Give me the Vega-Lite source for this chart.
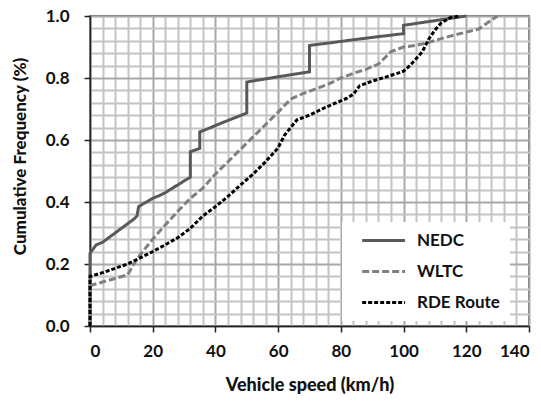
{
  "$schema": "https://vega.github.io/schema/vega-lite/v6.json",
  "autosize": {"type": "none"},
  "width": 439,
  "height": 310,
  "padding": {"left": 90, "top": 16, "right": 12, "bottom": 75},
  "background": "white",
  "config": {
    "view": {"stroke": "#3a3a3a", "strokeWidth": 1.5},
    "font": "Lato",
    "axis": {
      "labelFont": "Lato", "labelFontWeight": "bold", "labelFontSize": 17, "labelColor": "#111",
      "titleFont": "Lato", "titleFontWeight": 900, "titleFontSize": 17, "titleColor": "#111"
    }
  },
  "data": {
    "values": [
      {"i": 0, "s": "NEDC", "v": 0, "f": 0},
      {"i": 1, "s": "NEDC", "v": 0, "f": 0.235},
      {"i": 2, "s": "NEDC", "v": 2, "f": 0.262},
      {"i": 3, "s": "NEDC", "v": 4, "f": 0.27},
      {"i": 4, "s": "NEDC", "v": 6, "f": 0.285},
      {"i": 5, "s": "NEDC", "v": 8, "f": 0.3},
      {"i": 6, "s": "NEDC", "v": 10, "f": 0.315},
      {"i": 7, "s": "NEDC", "v": 12, "f": 0.33},
      {"i": 8, "s": "NEDC", "v": 14, "f": 0.345},
      {"i": 9, "s": "NEDC", "v": 15, "f": 0.355},
      {"i": 10, "s": "NEDC", "v": 15.5, "f": 0.385},
      {"i": 11, "s": "NEDC", "v": 18, "f": 0.4},
      {"i": 12, "s": "NEDC", "v": 20, "f": 0.412},
      {"i": 13, "s": "NEDC", "v": 22, "f": 0.42},
      {"i": 14, "s": "NEDC", "v": 24, "f": 0.43},
      {"i": 15, "s": "NEDC", "v": 26, "f": 0.443},
      {"i": 16, "s": "NEDC", "v": 28, "f": 0.455},
      {"i": 17, "s": "NEDC", "v": 30, "f": 0.468},
      {"i": 18, "s": "NEDC", "v": 32, "f": 0.48},
      {"i": 19, "s": "NEDC", "v": 32, "f": 0.562},
      {"i": 20, "s": "NEDC", "v": 35, "f": 0.573},
      {"i": 21, "s": "NEDC", "v": 35, "f": 0.626},
      {"i": 22, "s": "NEDC", "v": 38, "f": 0.638},
      {"i": 23, "s": "NEDC", "v": 42, "f": 0.655},
      {"i": 24, "s": "NEDC", "v": 46, "f": 0.671},
      {"i": 25, "s": "NEDC", "v": 50, "f": 0.687},
      {"i": 26, "s": "NEDC", "v": 50, "f": 0.787},
      {"i": 27, "s": "NEDC", "v": 60, "f": 0.804},
      {"i": 28, "s": "NEDC", "v": 70, "f": 0.82},
      {"i": 29, "s": "NEDC", "v": 70, "f": 0.905},
      {"i": 30, "s": "NEDC", "v": 80, "f": 0.918},
      {"i": 31, "s": "NEDC", "v": 90, "f": 0.931},
      {"i": 32, "s": "NEDC", "v": 100, "f": 0.943},
      {"i": 33, "s": "NEDC", "v": 100, "f": 0.97},
      {"i": 34, "s": "NEDC", "v": 110, "f": 0.985},
      {"i": 35, "s": "NEDC", "v": 120, "f": 1.0},

      {"i": 0, "s": "WLTC", "v": 0, "f": 0},
      {"i": 1, "s": "WLTC", "v": 0, "f": 0.13},
      {"i": 2, "s": "WLTC", "v": 4, "f": 0.142},
      {"i": 3, "s": "WLTC", "v": 8, "f": 0.153},
      {"i": 4, "s": "WLTC", "v": 12, "f": 0.165},
      {"i": 5, "s": "WLTC", "v": 14, "f": 0.2},
      {"i": 6, "s": "WLTC", "v": 16, "f": 0.23},
      {"i": 7, "s": "WLTC", "v": 20, "f": 0.28},
      {"i": 8, "s": "WLTC", "v": 24, "f": 0.326},
      {"i": 9, "s": "WLTC", "v": 28, "f": 0.37},
      {"i": 10, "s": "WLTC", "v": 32, "f": 0.412},
      {"i": 11, "s": "WLTC", "v": 36, "f": 0.445},
      {"i": 12, "s": "WLTC", "v": 40, "f": 0.49},
      {"i": 13, "s": "WLTC", "v": 44, "f": 0.53},
      {"i": 14, "s": "WLTC", "v": 48, "f": 0.57},
      {"i": 15, "s": "WLTC", "v": 52, "f": 0.61},
      {"i": 16, "s": "WLTC", "v": 56, "f": 0.65},
      {"i": 17, "s": "WLTC", "v": 60, "f": 0.69},
      {"i": 18, "s": "WLTC", "v": 64, "f": 0.732},
      {"i": 19, "s": "WLTC", "v": 68, "f": 0.75},
      {"i": 20, "s": "WLTC", "v": 72, "f": 0.765},
      {"i": 21, "s": "WLTC", "v": 76, "f": 0.78},
      {"i": 22, "s": "WLTC", "v": 80, "f": 0.8},
      {"i": 23, "s": "WLTC", "v": 84, "f": 0.815},
      {"i": 24, "s": "WLTC", "v": 88, "f": 0.828},
      {"i": 25, "s": "WLTC", "v": 92, "f": 0.845},
      {"i": 26, "s": "WLTC", "v": 96, "f": 0.885},
      {"i": 27, "s": "WLTC", "v": 100, "f": 0.9},
      {"i": 28, "s": "WLTC", "v": 104, "f": 0.905},
      {"i": 29, "s": "WLTC", "v": 108, "f": 0.915},
      {"i": 30, "s": "WLTC", "v": 112, "f": 0.927},
      {"i": 31, "s": "WLTC", "v": 116, "f": 0.938},
      {"i": 32, "s": "WLTC", "v": 120, "f": 0.948},
      {"i": 33, "s": "WLTC", "v": 124, "f": 0.958},
      {"i": 34, "s": "WLTC", "v": 127, "f": 0.98},
      {"i": 35, "s": "WLTC", "v": 130, "f": 1.0},

      {"i": 0, "s": "RDE Route", "v": 0, "f": 0},
      {"i": 1, "s": "RDE Route", "v": 0, "f": 0.16},
      {"i": 2, "s": "RDE Route", "v": 4, "f": 0.172},
      {"i": 3, "s": "RDE Route", "v": 8, "f": 0.186},
      {"i": 4, "s": "RDE Route", "v": 12, "f": 0.2},
      {"i": 5, "s": "RDE Route", "v": 16, "f": 0.22},
      {"i": 6, "s": "RDE Route", "v": 20, "f": 0.24},
      {"i": 7, "s": "RDE Route", "v": 24, "f": 0.262},
      {"i": 8, "s": "RDE Route", "v": 28, "f": 0.285},
      {"i": 9, "s": "RDE Route", "v": 32, "f": 0.315},
      {"i": 10, "s": "RDE Route", "v": 36, "f": 0.355},
      {"i": 11, "s": "RDE Route", "v": 40, "f": 0.385},
      {"i": 12, "s": "RDE Route", "v": 44, "f": 0.418},
      {"i": 13, "s": "RDE Route", "v": 48, "f": 0.455},
      {"i": 14, "s": "RDE Route", "v": 52, "f": 0.49},
      {"i": 15, "s": "RDE Route", "v": 56, "f": 0.53},
      {"i": 16, "s": "RDE Route", "v": 60, "f": 0.575},
      {"i": 17, "s": "RDE Route", "v": 62, "f": 0.615},
      {"i": 18, "s": "RDE Route", "v": 66, "f": 0.665},
      {"i": 19, "s": "RDE Route", "v": 70, "f": 0.68},
      {"i": 20, "s": "RDE Route", "v": 74, "f": 0.7},
      {"i": 21, "s": "RDE Route", "v": 78, "f": 0.718},
      {"i": 22, "s": "RDE Route", "v": 82, "f": 0.735},
      {"i": 23, "s": "RDE Route", "v": 84, "f": 0.748},
      {"i": 24, "s": "RDE Route", "v": 86, "f": 0.775},
      {"i": 25, "s": "RDE Route", "v": 90, "f": 0.79},
      {"i": 26, "s": "RDE Route", "v": 94, "f": 0.802},
      {"i": 27, "s": "RDE Route", "v": 98, "f": 0.815},
      {"i": 28, "s": "RDE Route", "v": 100, "f": 0.822},
      {"i": 29, "s": "RDE Route", "v": 102, "f": 0.84},
      {"i": 30, "s": "RDE Route", "v": 104, "f": 0.862},
      {"i": 31, "s": "RDE Route", "v": 106, "f": 0.885},
      {"i": 32, "s": "RDE Route", "v": 108, "f": 0.925},
      {"i": 33, "s": "RDE Route", "v": 110, "f": 0.955},
      {"i": 34, "s": "RDE Route", "v": 112, "f": 0.978},
      {"i": 35, "s": "RDE Route", "v": 115, "f": 0.995},
      {"i": 36, "s": "RDE Route", "v": 118, "f": 1.0}
    ]
  },
  "layer": [
    {
      "mark": {"type": "line", "opacity": 0},
      "encoding": {
        "x": {"field": "v", "type": "quantitative", "scale": {"domain": [0, 140], "nice": false},
          "axis": {"orient": "bottom", "values": [4, 8, 12, 16, 24, 28, 32, 36, 44, 48, 52, 56, 64, 68, 72, 76, 84, 88, 92, 96, 104, 108, 112, 116, 124, 128, 132, 136],
            "grid": true, "gridColor": "#c4c4c4", "gridWidth": 2, "gridOpacity": 1,
            "labels": false, "ticks": false, "domain": false, "title": null}},
        "y": {"field": "f", "type": "quantitative", "scale": {"domain": [0, 1], "nice": false},
          "axis": {"orient": "left", "values": [0.04, 0.08, 0.12, 0.16, 0.24, 0.28, 0.32, 0.36, 0.44, 0.48, 0.52, 0.56, 0.64, 0.68, 0.72, 0.76, 0.84, 0.88, 0.92, 0.96],
            "grid": true, "gridColor": "#c4c4c4", "gridWidth": 2, "gridOpacity": 1,
            "labels": false, "ticks": false, "domain": false, "title": null}},
        "detail": {"field": "s"}
      }
    },
    {
      "mark": {"type": "line", "strokeWidth": 3},
      "encoding": {
        "x": {"field": "v", "type": "quantitative", "scale": {"domain": [0, 140], "nice": false},
          "axis": {"orient": "bottom", "values": [0, 20, 40, 60, 80, 100, 120, 140],
            "grid": true, "gridColor": "#a8a8a8", "gridWidth": 2, "gridOpacity": 1,
            "domainColor": "#222", "domainWidth": 1.5, "tickColor": "#222", "tickWidth": 1.5, "tickSize": 6,
            "labelPadding": 11, "title": "Vehicle speed (km/h)", "titleFontSize": 18, "titlePadding": 17}},
        "y": {"field": "f", "type": "quantitative", "scale": {"domain": [0, 1], "nice": false},
          "axis": {"orient": "left", "values": [0, 0.2, 0.4, 0.6, 0.8, 1], "format": ".1f",
            "grid": true, "gridColor": "#a8a8a8", "gridWidth": 2, "gridOpacity": 1,
            "domainColor": "#222", "domainWidth": 1.5, "tickColor": "#222", "tickWidth": 1.5, "tickSize": 6,
            "labelPadding": 15, "title": "Cumulative Frequency (%)", "titlePadding": 16, "titleY": 140}},
        "order": {"field": "i", "type": "quantitative"},
        "color": {"field": "s", "type": "nominal",
          "scale": {"domain": ["NEDC", "WLTC", "RDE Route"], "range": ["#595959", "#808080", "#000000"]},
          "legend": {
            "orient": "none", "legendX": 252, "legendY": 206, "title": null,
            "fillColor": "white", "padding": 10,
            "symbolType": "M0.3,0H8.1", "symbolSize": 121, "symbolStrokeWidth": 3,
            "labelFont": "Lato", "labelFontWeight": "bold", "labelFontSize": 17, "labelColor": "#111",
            "labelOffset": 48, "rowPadding": 13, "labelLimit": 200
          }},
        "strokeDash": {"field": "s", "type": "nominal",
          "scale": {"domain": ["NEDC", "WLTC", "RDE Route"], "range": [[1, 0], [7, 3], [4, 2]]},
          "legend": null}
      }
    }
  ],
  "resolve": {"axis": {"x": "independent", "y": "independent"}}
}
